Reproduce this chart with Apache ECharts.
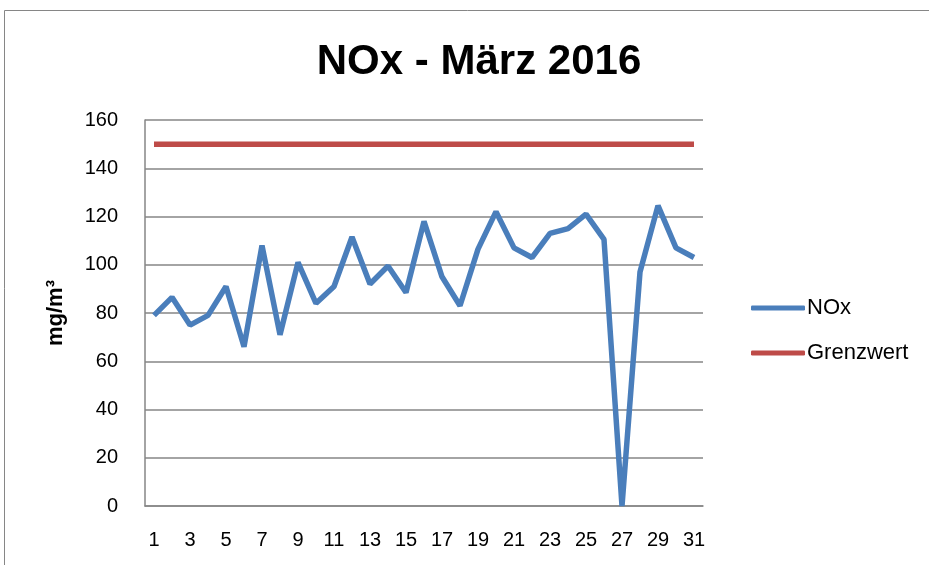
<!DOCTYPE html>
<html>
	<head>
		<meta charset="utf-8">
		<title>NOx - März 2016</title>
		<script src="https://cdn.jsdelivr.net/npm/echarts@6/dist/echarts.min.js"></script>
		<style type="text/css">
			html, body { margin: 0; padding: 0; background: #fff; }
			#main { width: 929px; height: 565px; }
		</style>
	</head>
	<body>
		<div id="main"></div>
		<script type="text/javascript">
			// Tage im März
			var tage = ['1', '2', '3', '4', '5', '6', '7', '8', '9', '10', '11', '12', '13', '14', '15', '16',
				'17', '18', '19', '20', '21', '22', '23', '24', '25', '26', '27', '28', '29', '30', '31'];
			// NOx Messwerte (mg/m³)
			var nox = [79, 86.5, 75, 79, 91, 66, 108, 71, 101, 84, 91, 111.5, 92, 99.5, 88.5, 118,
				95, 83, 106.5, 122, 107, 103, 113, 115, 121, 110.5, 0, 97, 124.5, 107, 103];
			// Grenzwert
			var grenzwert = [150, 150, 150, 150, 150, 150, 150, 150, 150, 150, 150, 150, 150, 150, 150, 150,
				150, 150, 150, 150, 150, 150, 150, 150, 150, 150, 150, 150, 150, 150, 150];

			var schrift = 'Liberation Sans';
			var myChart = echarts.init(document.getElementById('main'));
			myChart.setOption({
				animation: false,
				graphic: [{
					type: 'rect',
					shape: { x: 4.5, y: 10.5, width: 1000, height: 1000 },
					style: { fill: 'none', stroke: '#868686', lineWidth: 1 }
				}],
				title: {
					text: 'NOx - März 2016',
					left: 474,
					textAlign: 'center',
					top: 36,
					textStyle: { fontFamily: schrift, fontWeight: 'bold', fontSize: 42, color: '#000' }
				},
				legend: {
					orient: 'vertical',
					left: 746,
					top: 292,
					itemWidth: 54,
					itemHeight: 5,
					itemGap: 23,
					icon: 'roundRect',
					textStyle: { fontFamily: schrift, fontSize: 22, color: '#000', padding: [0, 0, 0, -3] },
					data: ['NOx', 'Grenzwert']
				},
				grid: { left: 145, right: 226, top: 120, bottom: 59 },
				xAxis: {
					type: 'category',
					data: tage,
					boundaryGap: true,
					axisLine: { lineStyle: { color: '#868686', width: 1.5 } },
					axisTick: { show: false },
					axisLabel: { interval: 1, margin: 24, fontFamily: schrift, fontSize: 20, color: '#000' }
				},
				yAxis: {
					type: 'value',
					min: 0,
					max: 160,
					interval: 20,
					name: 'mg/m³',
					nameLocation: 'middle',
					nameGap: 78,
					nameTextStyle: { fontFamily: schrift, fontWeight: 'bold', fontSize: 22, color: '#000' },
					axisLine: { show: true, lineStyle: { color: '#868686', width: 1.5 } },
					axisTick: { show: false },
					axisLabel: { margin: 27, fontFamily: schrift, fontSize: 20, color: '#000' },
					splitLine: { lineStyle: { color: '#868686', width: 1.5 } }
				},
				series: [{
					name: 'NOx',
					type: 'line',
					data: nox,
					symbol: 'none',
					color: '#4a7ebb',
					lineStyle: { width: 5.5, color: '#4a7ebb' }
				}, {
					name: 'Grenzwert',
					type: 'line',
					data: grenzwert,
					symbol: 'none',
					color: '#be4b48',
					lineStyle: { width: 5.5, color: '#be4b48' }
				}]
			});
		</script>
	</body>
</html>
